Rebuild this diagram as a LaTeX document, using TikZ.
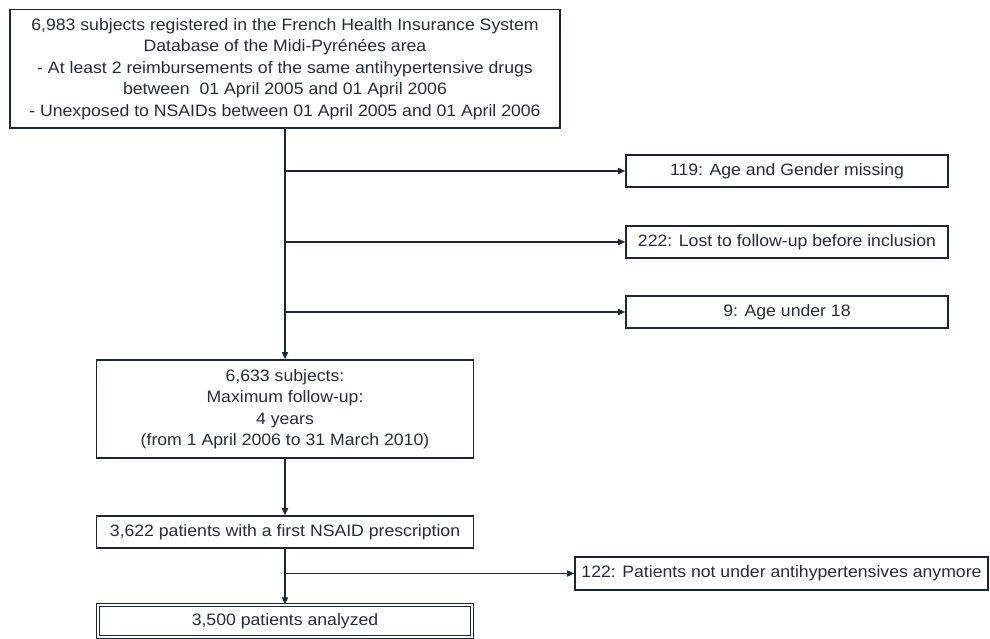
\documentclass[tikz,border=0pt]{standalone}
\usepackage{fontspec}
\setmainfont{Liberation Sans}[FakeStretch=1.07]
\usetikzlibrary{arrows.meta}
\definecolor{linec}{RGB}{28,38,44}
\definecolor{textc}{RGB}{38,46,52}
\begin{document}
\begin{tikzpicture}[x=1pt,y=-1pt,
  box/.style={draw=linec, line width=1.6pt, text=textc, inner sep=0pt, align=center,
    font=\fontsize{16.5}{21.5}\selectfont},
  arr/.style={draw=linec, line width=1.5pt, -{Triangle[length=7pt,width=6pt]}}]
\fill[white] (0,0) rectangle (990,639);
\useasboundingbox (0,0) rectangle (990,639);

\node[box, minimum width=550pt, minimum height=118.5pt] (top) at (285,68.75)
  {6,983 subjects registered in the French Health Insurance System\\
   Database of the Midi-Pyrénées area\\
   - At least 2 reimbursements of the same antihypertensive drugs\\
   between\ \ 01 April 2005 and 01 April 2006\\
   - Unexposed to NSAIDs between 01 April 2005 and 01 April 2006};

\node[box, minimum width=322pt, minimum height=32pt] (r1) at (787,171) {119: Age and Gender missing};
\node[box, minimum width=322pt, minimum height=32pt] (r2) at (787,242) {222: Lost to follow-up before inclusion};
\node[box, minimum width=322pt, minimum height=32pt] (r3) at (787,312) {9: Age under 18};

\node[box, minimum width=377pt, minimum height=98pt] (b2) at (285,409)
  {6,633 subjects:\\ Maximum follow-up:\\ 4 years\\ (from 1 April 2006 to 31 March 2010)};

\node[box, minimum width=377pt, minimum height=32pt] (b3) at (285,532)
  {3,622 patients with a first NSAID prescription};

\node[box, minimum width=413pt, minimum height=33pt] (r4) at (781.5,573.5)
  {122: Patients not under antihypertensives anymore};

\node[box, line width=1.2pt, double=white, double distance=2.4pt,
  minimum width=374pt, minimum height=32pt] (fin) at (285,621)
  {3,500 patients analyzed};

\draw[arr] (top.south) -- (b2.north);
\draw[arr] (top.south |- r1.west) -- (r1.west);
\draw[arr] (top.south |- r2.west) -- (r2.west);
\draw[arr] (top.south |- r3.west) -- (r3.west);
\draw[arr] (b2.south) -- (b3.north);
\draw[arr] (b3.south) -- (fin.north);
\draw[arr] (b3.south |- r4.west) -- (r4.west);
\end{tikzpicture}
\end{document}
